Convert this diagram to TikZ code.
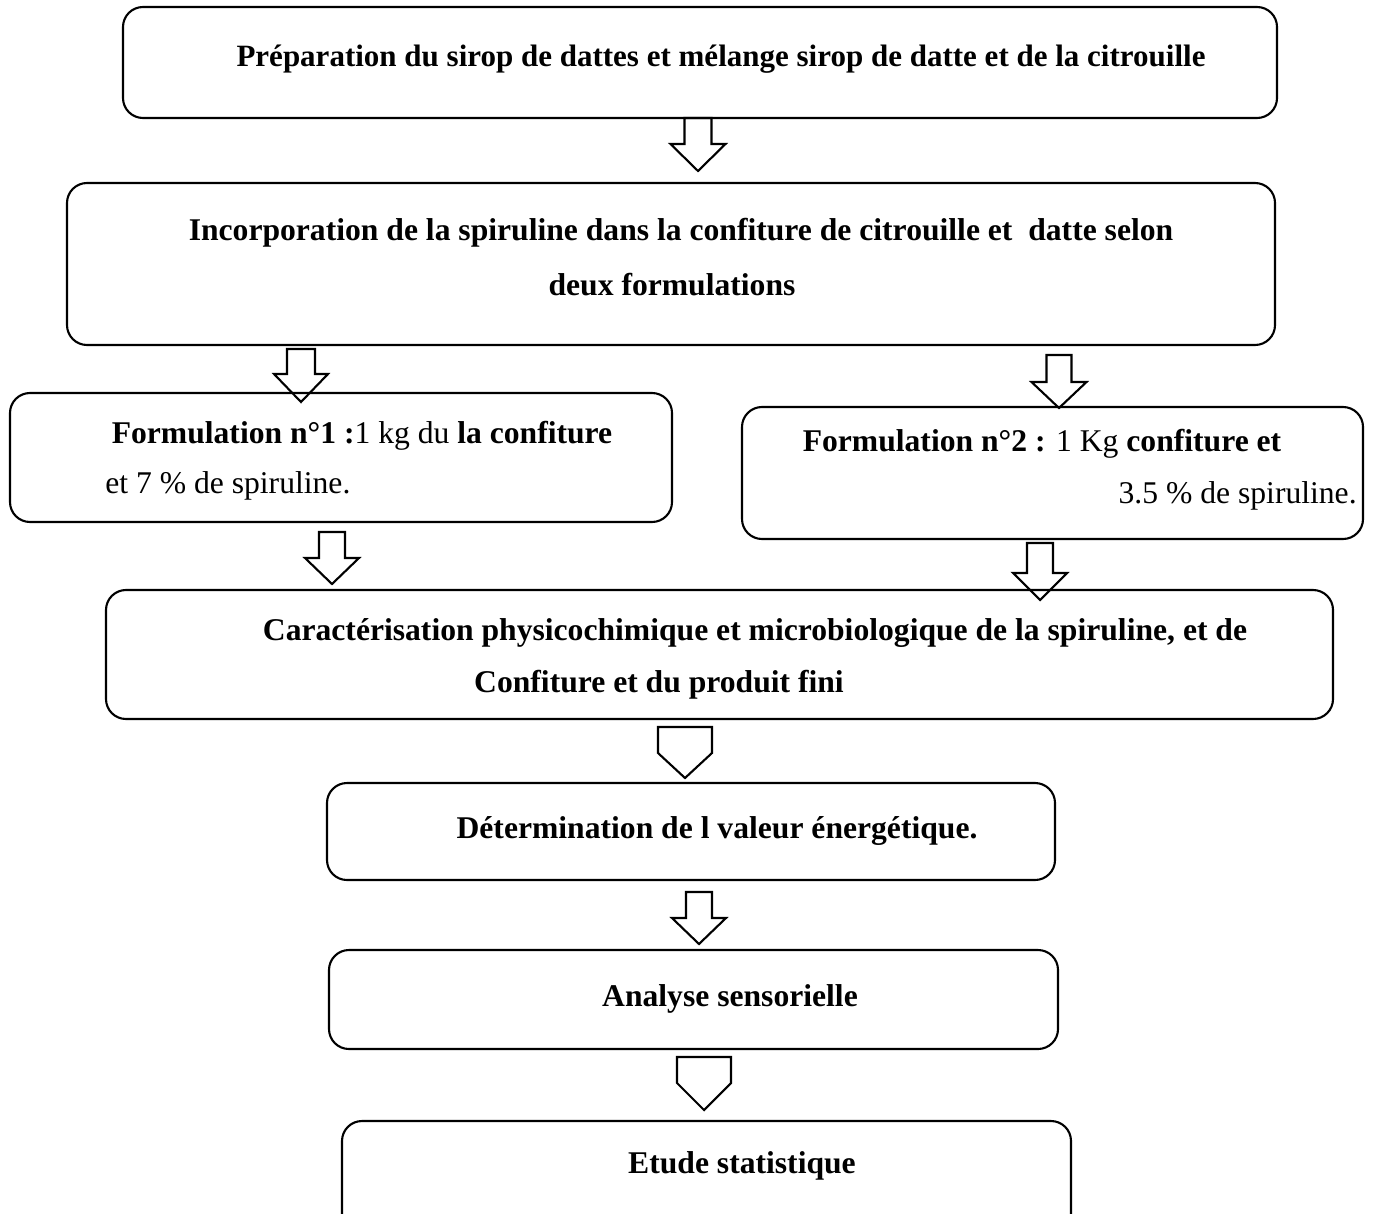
\documentclass[tikz,border=0pt]{standalone}
\usepackage{fontspec}
\setmainfont{Liberation Serif}
\newcommand\blkarrow[6]{% cx, top, shaft half width, head half width, shoulder y, tip y
  \draw[arr] ({#1-#3},#2) -- ({#1-#3},#5) -- ({#1-#4},#5) -- (#1,#6) -- ({#1+#4},#5) -- ({#1+#3},#5) -- ({#1+#3},#2) -- cycle;}
\newcommand\pentarrow[5]{% cx, top, half width, shoulder y, tip y
  \draw[arr] ({#1-#3},#2) -- ({#1+#3},#2) -- ({#1+#3},#4) -- (#1,#5) -- ({#1-#3},#4) -- cycle;}
\begin{document}
\begin{tikzpicture}[x=0.02cm,y=-0.02cm,
  box/.style={draw, line width=1.2pt, rounded corners=0.4cm},
  arr/.style={draw, line width=1.2pt, line join=miter},
  txt/.style={anchor=base, inner sep=0pt, font=\fontsize{18}{22}\selectfont}]
\clip (0,0) rectangle (1378,1213);
\fill[white] (0,0) rectangle (1378,1213);
% boxes
\draw[box] (123,7) rectangle (1277,118);
\draw[box] (67,183) rectangle (1275,345);
\draw[box] (10,393) rectangle (672,522);
\draw[box] (742,407) rectangle (1363,539);
\draw[box] (106,590) rectangle (1333,719);
\draw[box] (327,783) rectangle (1055,880);
\draw[box] (329,950) rectangle (1058,1049);
\draw[box] (342,1121) rectangle (1071,1250);
% texts
\node[txt, font=\fontsize{17.65}{22}\selectfont] (t1) at (721,67) {\textbf{Préparation du sirop de dattes et mélange sirop de datte et de la citrouille}};
\node[txt] (t2a) at (681,240) {\textbf{Incorporation de la spiruline dans la confiture de citrouille et\ \ datte selon}};
\node[txt] (t2b) at (672,295) {\textbf{deux formulations}};
\node[txt] (t3a) at (362,443) {\textbf{Formulation n°1 :}1 kg du \textbf{la confiture}};
\node[txt, anchor=base west] (t3b) at (105,493) {et 7 \% de spiruline.};
\node[txt] (t4a) at (1042,451) {\textbf{Formulation n°2 :} 1 Kg \textbf{confiture et}};
\node[txt, anchor=base east] (t4b) at (1357,503) {3.5 \% de spiruline.};
\node[txt] (t5a) at (755,640) {\textbf{Caractérisation physicochimique et microbiologique de la spiruline, et de}};
\node[txt] (t5b) at (659,692) {\textbf{Confiture et du produit fini}};
\node[txt] (t6) at (717,838) {\textbf{Détermination de l valeur énergétique.}};
\node[txt] (t7) at (730,1006) {\textbf{Analyse sensorielle}};
\node[txt] (t8) at (742,1173) {\textbf{Etude statistique}};
% block arrows
\blkarrow{698}{118}{13.5}{27.5}{144}{171}
\blkarrow{301}{349}{14}{27}{374}{402}
\blkarrow{1059}{355}{12.5}{27.5}{382}{408}
\blkarrow{332}{532}{13}{27}{558}{584}
\blkarrow{1040}{543}{13}{27}{573}{600}
\pentarrow{685}{727}{27}{753}{778}
\blkarrow{699}{892}{13}{27}{918}{944}
\pentarrow{704}{1057}{27}{1083}{1110}
\end{tikzpicture}
\end{document}
